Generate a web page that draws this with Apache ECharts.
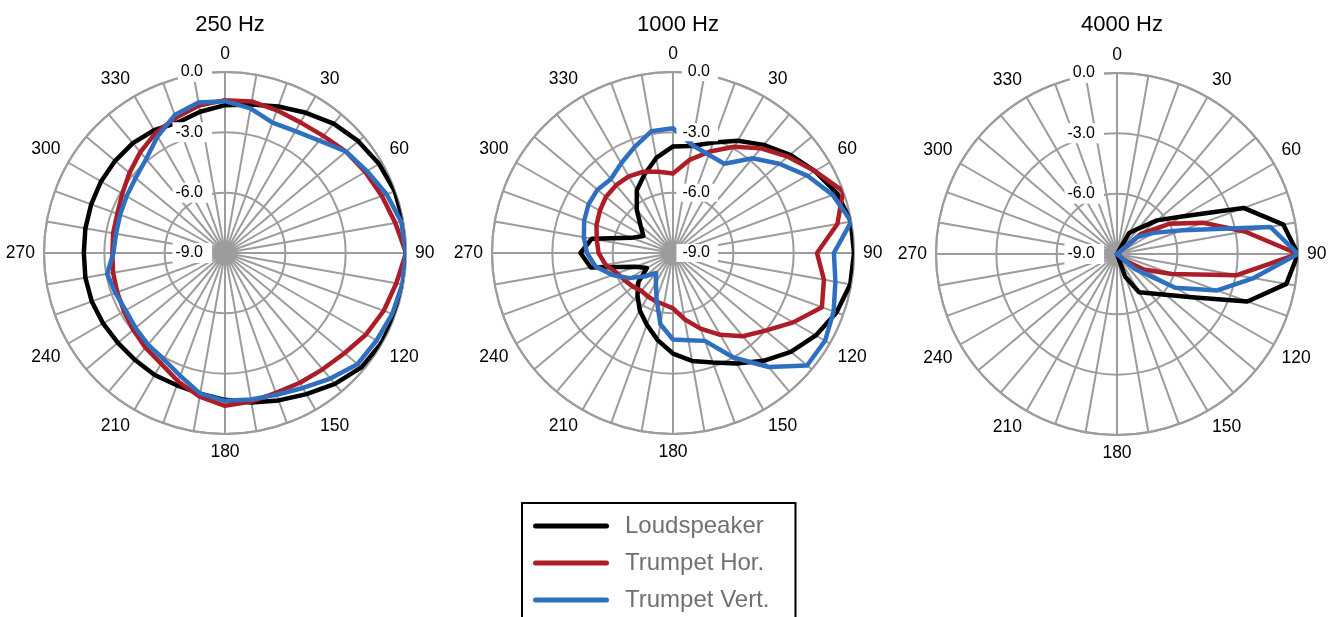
<!DOCTYPE html>
<html>
<head>
<meta charset="utf-8">
<title>Polar patterns</title>
<script src="https://cdn.jsdelivr.net/npm/echarts@6/dist/echarts.min.js"></script>
<style>
  html, body { margin: 0; padding: 0; background: #fff; }
  #chart { width: 1343px; height: 617px; }
</style>
</head>
<body>
<div id="chart"></div>
<script>
// measurement angles (degrees) and panel titles
var angles = [0, 10, 20, 30, 40, 50, 60, 70, 80, 90, 100, 110, 120, 130, 140, 150, 160, 170,
              180, 190, 200, 210, 220, 230, 240, 250, 260, 270, 280, 290, 300, 310, 320, 330, 340, 350];
var titles = ['250 Hz', '1000 Hz', '4000 Hz'];
var names = ['Loudspeaker', 'Trumpet Hor.', 'Trumpet Vert.'];

// relative level in dB, one value per angle
var loud250 = [-1.65, -1.5, -1.25, -0.95, -0.6, -0.35, -0.15, -0.02, 0, 0, 0, 0, -0.02, -0.15, -0.5, -0.9, -1.2, -1.45,
               -1.7, -1.9, -2.0, -2.0, -2.05, -2.05, -2.0, -1.95, -1.95, -1.98, -1.95, -1.92, -1.88, -1.87, -1.87, -1.95, -2.1, -1.87];
var horz250 = [-1.4, -1.35, -1.45, -1.5, -1.4, -1.15, -0.95, -0.7, -0.4, 0, -0.35, -0.6, -0.9, -1.25, -1.45, -1.55, -1.6, -1.5,
               -1.4, -1.75, -2.2, -2.65, -2.85, -3.05, -3.2, -3.3, -3.35, -3.4, -3.35, -3.3, -3.1, -2.8, -2.45, -2.1, -1.85, -1.55];
var vert250 = [-1.45, -1.7, -2.1, -2.0, -1.7, -1.15, -0.85, -0.45, -0.1, 0, -0.05, -0.15, -0.3, -0.4, -0.85, -1.25, -1.5, -1.6,
               -1.65, -1.9, -2.5, -2.9, -3.05, -3.2, -3.3, -3.2, -3.05, -3.45, -3.5, -3.45, -3.35, -3.2, -2.9, -2.3, -1.7, -1.4];

var loud1000 = [-3.7, -3.6, -3.15, -2.55, -1.98, -1.4, -0.85, -0.32, -0.02, 0, -0.05, -0.35, -0.8, -1.35, -2.0, -2.65, -3.2, -3.55,
                -4.0, -4.6, -5.2, -5.7, -6.25, -6.75, -7.5, -7.0, -4.85, -4.4, -4.9, -6.8, -7.3, -6.9, -6.2, -5.4, -4.85, -4.2];
var horz1000 = [-5.05, -4.3, -3.63, -2.9, -2.2, -1.55, -0.85, 0, -0.7, -1.84, -1.38, -1.12, -2.1, -3.0, -3.6, -4.3, -5.0, -5.65,
                -6.25, -6.4, -6.45, -6.5, -6.55, -6.4, -6.25, -6.05, -5.6, -5.3, -5.15, -4.95, -4.8, -4.65, -4.6, -4.6, -4.7, -4.9];
var vert1000 = [-2.8, -3.55, -3.8, -3.88, -2.85, -2.1, -1.3, -0.55, 0, -1.0, -0.8, -0.5, -0.27, -0.3, -1.6, -3.0, -4.35, -4.6,
                -4.7, -5.4, -6.6, -7.3, -7.7, -7.2, -6.5, -5.8, -5.1, -4.72, -4.5, -4.3, -4.15, -4.1, -4.2, -3.85, -3.4, -2.85];

var loud4000 = [-9, -9, -9, -7.8, -7.35, -6.4, -5.27, -2.3, -0.6, 0, -0.45, -2.1, -4.7, -5.85, -6.45, -6.8, -7.8, -9,
                -9, -9, -9, -9, -9, -9, -9, -9, -9, -9, -9, -9, -9, -9, -9, -9, -9, -9];
var horz4000 = [-9, -9, -9, -9, -9, -7.45, -6.0, -4.45, -2.55, 0, -2.95, -6.1, -7.45, -8.5, -9, -9, -9, -9,
                -9, -9, -9, -9, -9, -9, -9, -9, -9, -9, -9, -9, -9, -9, -9, -9, -9, -9];
var vert4000 = [-9, -9, -9, -9, -9, -7.7, -6.9, -5.55, -1.26, 0, -2.1, -3.7, -5.65, -7.85, -9, -9, -9, -9,
                -9, -9, -9, -9, -9, -9, -9, -9, -9, -9, -9, -9, -9, -9, -9, -9, -9, -9];

var panels = [
  [loud250, horz250, vert250],
  [loud1000, horz1000, vert1000],
  [loud4000, horz4000, vert4000]
];

var colors = ['#000000', '#ad1d27', '#2f6fbf'];
var font = 'Liberation Sans, Arial, sans-serif';
var grey = '#9c9c9c';
var centers = [[225, 253], [673, 253], [1117, 254]];
// the middle panel has its dB labels on the right of the 0 spoke
var labelRight = [false, true, false];

// closed loop: [radius, angle] pairs, last point repeats the first at 360
function loop(vals) {
  var pts = vals.map(function (v, i) { return [v, angles[i]]; });
  pts.push([vals[0], 360]);
  return pts;
}

var chart = echarts.init(document.getElementById('chart'));

var polar = [], angleAxis = [], radiusAxis = [], series = [], title = [];

centers.forEach(function (c, i) {
  polar.push({ center: c, radius: 181 });
  title.push({
    text: titles[i], left: c[0], top: 9, textAlign: 'center',
    textStyle: { fontSize: 22, fontWeight: 'normal', color: '#000', fontFamily: font }
  });
  angleAxis.push({
    polarIndex: i, type: 'value', min: 0, max: 360, interval: 10,
    startAngle: 90, clockwise: true,
    axisLine: { show: true, lineStyle: { color: grey, width: 2 } },
    axisTick: { show: false },
    axisLabel: {
      margin: 9, align: 'center', verticalAlign: 'middle',
      fontSize: 17.5, color: '#000', fontFamily: font,
      formatter: function (v) { return (v % 30 === 0 && v < 360) ? String(v) : ''; }
    },
    splitLine: { show: true, lineStyle: { color: grey, width: 2 } }
  });
  radiusAxis.push({
    polarIndex: i, type: 'value', min: -9, max: 0, interval: 3,
    axisLine: { show: false }, axisTick: { show: false },
    axisLabel: { show: false },
    splitLine: { show: true, lineStyle: { color: grey, width: 2 } }
  });
});

// overlay polars only for the dB labels, so their white boxes sit over the lines
centers.forEach(function (c, i) {
  polar.push({ center: c, radius: 181 });
  angleAxis.push({
    polarIndex: 3 + i, type: 'value', min: 0, max: 360, startAngle: 90, clockwise: true,
    axisLine: { show: false }, axisTick: { show: false }, axisLabel: { show: false }, splitLine: { show: false }
  });
  var right = labelRight[i];
  radiusAxis.push({
    polarIndex: 3 + i, type: 'value', min: -9, max: 0, interval: 3, z: 5,
    axisLine: { show: false }, axisTick: { show: false }, splitLine: { show: false },
    axisLabel: {
      fontSize: 16, color: '#000', fontFamily: font, backgroundColor: '#fff',
      align: 'right',
      padding: right ? [1, 8, 1, 6] : [2, 9, 2, 3],
      margin: right ? -45 : 13,
      formatter: function (v) { return v.toFixed(1); }
    }
  });
});

// draw order: loudspeaker, vertical, horizontal (red on top)
[0, 2, 1].forEach(function (k) {
  panels.forEach(function (p, i) {
    series.push({
      name: names[k], type: 'line', coordinateSystem: 'polar', polarIndex: i,
      data: loop(p[k]), symbol: 'none', smooth: false,
      lineStyle: { color: colors[k], width: 4.5, join: 'round', cap: 'round' },
      itemStyle: { color: colors[k] },
      z: 2 + k
    });
  });
});

chart.setOption({
  animation: false,
  backgroundColor: '#fff',
  title: title,
  polar: polar,
  angleAxis: angleAxis,
  radiusAxis: radiusAxis,
  legend: {
    data: names, orient: 'vertical', left: 522, top: 503, height: 300,
    padding: [10, 26, 12, 11], borderColor: '#000', borderWidth: 2,
    itemWidth: 76, itemHeight: 5, itemGap: 11,
    icon: 'path://M2.5,0 L73.5,0 A2.5,2.5 0 0 1 73.5,5 L2.5,5 A2.5,2.5 0 0 1 2.5,0 Z',
    textStyle: { fontSize: 24, lineHeight: 26, color: '#707070', fontFamily: font, padding: [0, 0, 0, 11] },
    selectedMode: false
  },
  series: series
});
</script>
</body>
</html>
